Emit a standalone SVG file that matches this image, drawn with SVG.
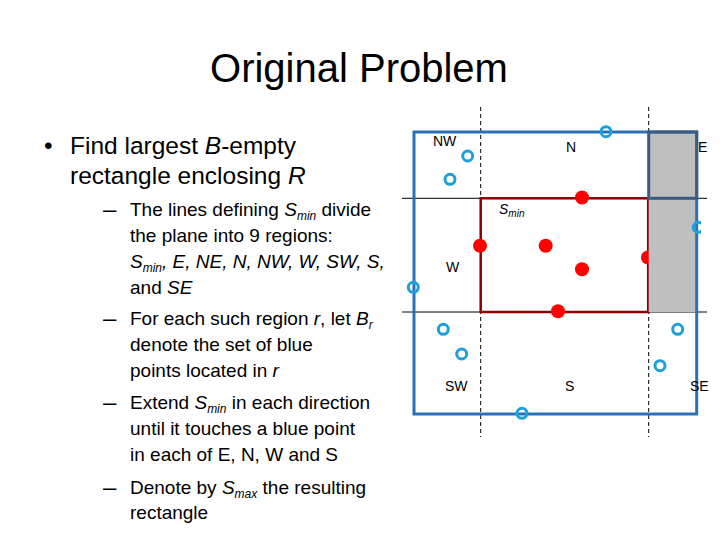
<svg xmlns="http://www.w3.org/2000/svg" width="720" height="540" viewBox="0 0 720 540">
<defs>
<style>
.t{font-family:"Liberation Sans",Arial,sans-serif;fill:#000}
.title{font-size:40px}
.b1{font-size:24.5px}
.b2{font-size:19px}
.dsh{font-size:24px}
.lbl{font-size:14px}
.sub{font-size:12px}
.lsub{font-size:10px}
.dash{stroke:#000;stroke-width:1;stroke-dasharray:4 3;fill:none}
.hl{stroke:#000;stroke-width:1;fill:none}
.blue{fill:none;stroke:#1ea0dc;stroke-width:3}
.red{fill:#f00}
</style>
<clipPath id="cutE"><rect x="600" y="200" width="101" height="60"/></clipPath>
</defs>
<rect width="720" height="540" fill="#fff"/>

<g id="title"><text class="t title" x="359" y="82" text-anchor="middle">Original Problem</text></g>

<g id="bullets">
<text class="t b1" x="44" y="154">•</text>
<text class="t b1" x="70" y="154">Find largest <tspan font-style="italic">B</tspan>-empty</text>
<text class="t b1" x="70" y="184">rectangle enclosing <tspan font-style="italic">R</tspan></text>

<text class="t dsh" x="103" y="217">–</text>
<text class="t b2" x="130" y="216">The lines defining <tspan font-style="italic">S<tspan class="sub" dy="4">min</tspan></tspan><tspan dy="-4"> divide</tspan></text>
<text class="t b2" x="130" y="242">the plane into 9 regions:</text>
<text class="t b2" x="130" y="268" font-style="italic">S<tspan class="sub" dy="4">min</tspan><tspan dy="-4">, E, NE, N, NW, W, SW, S,</tspan></text>
<text class="t b2" x="130" y="294">and <tspan font-style="italic">SE</tspan></text>

<text class="t dsh" x="103" y="326">–</text>
<text class="t b2" x="130" y="325">For each such region <tspan font-style="italic">r</tspan>, let <tspan font-style="italic">B<tspan class="sub" dy="4">r</tspan></tspan></text>
<text class="t b2" x="130" y="351">denote the set of blue</text>
<text class="t b2" x="130" y="377">points located in <tspan font-style="italic">r</tspan></text>

<text class="t dsh" x="103" y="410">–</text>
<text class="t b2" x="130" y="409">Extend <tspan font-style="italic">S<tspan class="sub" dy="4">min</tspan></tspan><tspan dy="-4"> in each direction</tspan></text>
<text class="t b2" x="130" y="435">until it touches a blue point</text>
<text class="t b2" x="130" y="461">in each of E, N, W and S</text>

<text class="t dsh" x="103" y="495">–</text>
<text class="t b2" x="130" y="494">Denote by <tspan font-style="italic">S<tspan class="sub" dy="4">max</tspan></tspan><tspan dy="-4"> the resulting</tspan></text>
<text class="t b2" x="130" y="519">rectangle</text>
</g>

<g id="connectors">
<line class="dash" x1="480.7" y1="107" x2="480.7" y2="437"/>
<line class="dash" x1="648.7" y1="107" x2="648.7" y2="437"/>
<line class="hl" x1="402" y1="198.3" x2="707" y2="198.3"/>
<line class="hl" x1="402" y1="312" x2="707" y2="312"/>
</g>

<g id="Smin">
<rect x="480.7" y="198.3" width="167.5" height="113.7" fill="none" stroke="#8b0000" stroke-width="2.5"/>
</g>

<g id="red-points">
<circle class="red" cx="582" cy="197.5" r="7"/>
<circle class="red" cx="480" cy="245.7" r="7"/>
<circle class="red" cx="545.7" cy="245.7" r="7"/>
<circle class="red" cx="582" cy="269.3" r="7"/>
<circle class="red" cx="648" cy="257.5" r="7"/>
<circle class="red" cx="558" cy="311.3" r="7"/>
</g>

<g id="gray-E">
<rect x="648.7" y="132" width="48" height="180" fill="#bfbfbf"/>
</g>

<g id="Smax">
<rect x="414" y="132" width="282.7" height="282" fill="none" stroke="#2a72b5" stroke-width="3"/>
</g>

<g id="NE">
<rect x="648.7" y="132" width="48" height="66.3" fill="none" stroke="#3d5a80" stroke-width="3"/>
</g>

<g id="blue-points">
<circle class="blue" cx="606" cy="131.7" r="5"/>
<circle class="blue" cx="467.7" cy="156" r="5"/>
<circle class="blue" cx="450" cy="179.3" r="5"/>
<circle class="blue" cx="698.3" cy="227.3" r="5" clip-path="url(#cutE)"/>
<circle class="blue" cx="413.3" cy="287.3" r="5"/>
<circle class="blue" cx="443.3" cy="329.3" r="5"/>
<circle class="blue" cx="461.7" cy="354" r="5"/>
<circle class="blue" cx="522" cy="413.3" r="5"/>
<circle class="blue" cx="677.7" cy="329.3" r="5"/>
<circle class="blue" cx="660" cy="365.7" r="5"/>
</g>

<g id="labels">
<text class="t lbl" x="433" y="146">NW</text>
<text class="t lbl" x="566" y="152">N</text>
<text class="t lbl" x="698" y="152">E</text>
<text class="t lbl" x="499" y="214" font-style="italic">S<tspan class="lsub" dy="3">min</tspan></text>
<text class="t lbl" x="446" y="272">W</text>
<text class="t lbl" x="445" y="391">SW</text>
<text class="t lbl" x="565" y="391">S</text>
<text class="t lbl" x="690" y="391">SE</text>
</g>
</svg>
